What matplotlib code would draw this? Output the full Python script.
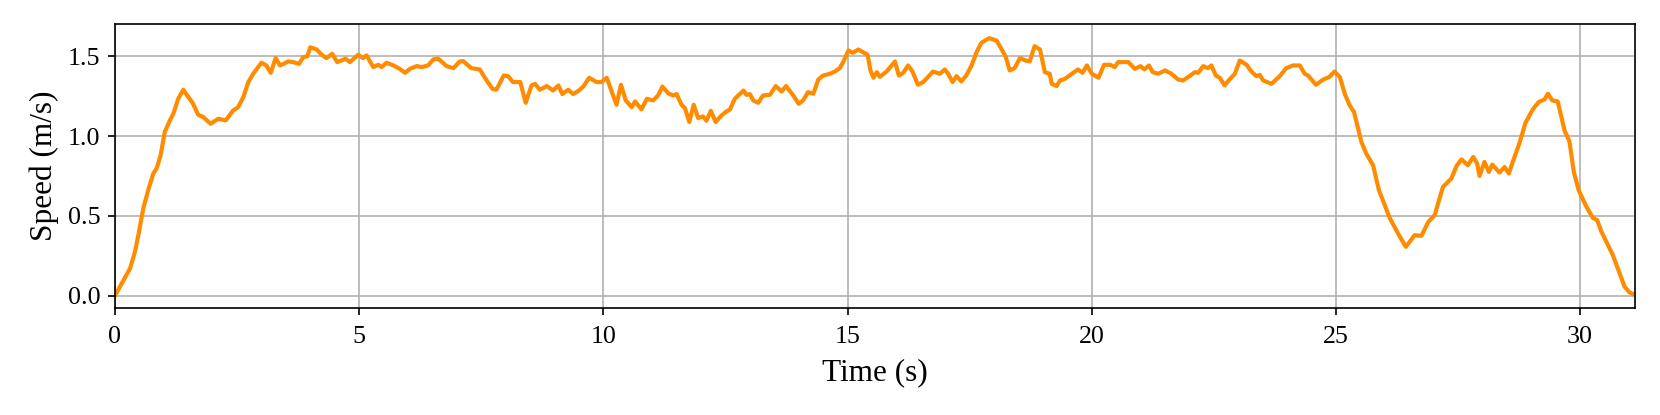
import numpy as np
import matplotlib.pyplot as plt

plt.rcParams['font.family'] = ['Liberation Serif', 'DejaVu Serif']

# Time (s) and speed (m/s)
time = [0.0, 0.31, 0.41, 0.48, 0.58, 0.68, 0.785, 0.853, 0.935, 1.02, 1.126, 1.194, 1.296, 1.399,
        1.48, 1.59, 1.705, 1.808, 1.958, 2.115, 2.27, 2.42, 2.52, 2.63, 2.73, 2.83, 3.0, 3.1,
        3.19, 3.29, 3.38, 3.55, 3.65, 3.77, 3.855, 3.94, 4.0, 4.13, 4.23, 4.33, 4.45, 4.55,
        4.72, 4.81, 4.98, 5.08, 5.15, 5.29, 5.39, 5.46, 5.56, 5.70, 5.83, 5.94, 6.04, 6.18,
        6.28, 6.41, 6.52, 6.62, 6.79, 6.93, 7.06, 7.13, 7.30, 7.47, 7.61, 7.73, 7.81, 7.96,
        8.05, 8.15, 8.30, 8.41, 8.53, 8.60, 8.70, 8.84, 8.97, 9.08, 9.16, 9.28, 9.38, 9.49,
        9.59, 9.71, 9.86, 9.96, 10.07, 10.17, 10.27, 10.36, 10.46, 10.58, 10.65, 10.78, 10.89,
        11.02, 11.12, 11.21, 11.33, 11.43, 11.50, 11.60, 11.67, 11.76, 11.85, 11.94, 12.04,
        12.11, 12.20, 12.30, 12.42, 12.52, 12.59, 12.69, 12.87, 12.93, 13.00, 13.07, 13.17,
        13.27, 13.41, 13.53, 13.65, 13.74, 13.88, 14.0, 14.09, 14.19, 14.30, 14.40, 14.50,
        14.64, 14.74, 14.84, 14.91, 15.02, 15.11, 15.22, 15.32, 15.41, 15.47, 15.53, 15.60,
        15.66, 15.80, 15.97, 16.05, 16.14, 16.24, 16.33, 16.44, 16.55, 16.65, 16.75, 16.89,
        16.99, 17.06, 17.15, 17.23, 17.33, 17.43, 17.54, 17.64, 17.74, 17.90, 18.05, 18.15,
        18.24, 18.32, 18.42, 18.53, 18.65, 18.73, 18.83, 18.94, 19.04, 19.14, 19.18, 19.28,
        19.35, 19.45, 19.62, 19.72, 19.81, 19.90, 20.0, 20.14, 20.25, 20.38, 20.47, 20.54,
        20.75, 20.88, 21.0, 21.08, 21.17, 21.25, 21.36, 21.50, 21.63, 21.77, 21.87, 22.0,
        22.11, 22.18, 22.28, 22.38, 22.45, 22.54, 22.62, 22.72, 22.82, 22.93, 23.03, 23.17,
        23.27, 23.37, 23.44, 23.51, 23.68, 23.85, 23.98, 24.12, 24.26, 24.36, 24.43, 24.59,
        24.74, 24.86, 24.97, 25.08, 25.18, 25.28, 25.37, 25.52, 25.62, 25.76, 25.88, 26.0,
        26.10, 26.27, 26.43, 26.61, 26.75, 26.89, 27.02, 27.19, 27.36, 27.47, 27.57, 27.70,
        27.81, 27.89, 27.94, 28.04, 28.13, 28.20, 28.35, 28.45, 28.54, 28.62, 28.76, 28.88,
        29.03, 29.15, 29.27, 29.34, 29.43, 29.54, 29.68, 29.78, 29.87, 29.97, 30.12, 30.26,
        30.35, 30.43, 30.67, 30.91, 31.01, 31.12]
speed = [0.0, 0.171, 0.275, 0.38, 0.546, 0.66, 0.765, 0.797, 0.879, 1.025, 1.098, 1.139, 1.233, 1.29,
         1.254, 1.208, 1.133, 1.119, 1.077, 1.108, 1.098, 1.16, 1.18, 1.244, 1.338, 1.39, 1.459, 1.442,
         1.396, 1.488, 1.442, 1.467, 1.463, 1.452, 1.494, 1.50, 1.556, 1.542, 1.51, 1.488, 1.515, 1.463,
         1.484, 1.463, 1.509, 1.488, 1.505, 1.432, 1.446, 1.432, 1.459, 1.442, 1.421, 1.396, 1.421, 1.438,
         1.432, 1.442, 1.48, 1.484, 1.438, 1.425, 1.467, 1.469, 1.425, 1.417, 1.348, 1.296, 1.29, 1.379,
         1.375, 1.338, 1.338, 1.208, 1.317, 1.327, 1.29, 1.313, 1.285, 1.317, 1.263, 1.29, 1.263, 1.283,
         1.31, 1.365, 1.338, 1.338, 1.365, 1.279, 1.196, 1.321, 1.223, 1.181, 1.217, 1.167, 1.233,
         1.223, 1.254, 1.31, 1.267, 1.254, 1.263, 1.196, 1.175, 1.088, 1.196, 1.113, 1.123,
         1.096, 1.158, 1.088, 1.129, 1.154, 1.165, 1.233, 1.285, 1.258, 1.263, 1.223, 1.208,
         1.254, 1.258, 1.313, 1.279, 1.313, 1.258, 1.202, 1.223, 1.275, 1.265, 1.354, 1.379,
         1.390, 1.404, 1.425, 1.463, 1.536, 1.521, 1.542, 1.525, 1.509, 1.41, 1.365, 1.40,
         1.371, 1.404, 1.467, 1.379, 1.396, 1.442, 1.404, 1.321, 1.338, 1.371, 1.404, 1.390,
         1.417, 1.390, 1.338, 1.375, 1.342, 1.379, 1.442, 1.525, 1.584, 1.613, 1.598, 1.546,
         1.494, 1.411, 1.425, 1.488, 1.473, 1.467, 1.563, 1.542, 1.400, 1.390, 1.327, 1.313,
         1.348, 1.358, 1.396, 1.417, 1.396, 1.442, 1.39, 1.365, 1.446, 1.446, 1.432, 1.463,
         1.463, 1.421, 1.438, 1.417, 1.442, 1.400, 1.390, 1.411, 1.390, 1.354, 1.348, 1.375,
         1.400, 1.396, 1.438, 1.425, 1.442, 1.379, 1.365, 1.317, 1.354, 1.390, 1.473, 1.446,
         1.404, 1.375, 1.383, 1.348, 1.327, 1.375, 1.425, 1.442, 1.442, 1.390, 1.379, 1.321,
         1.354, 1.369, 1.404, 1.369, 1.265, 1.192, 1.150, 0.963, 0.89, 0.817, 0.660, 0.567,
         0.487, 0.390, 0.306, 0.379, 0.375, 0.462, 0.504, 0.681, 0.733, 0.813, 0.854, 0.817,
         0.869, 0.827, 0.75, 0.838, 0.775, 0.821, 0.771, 0.806, 0.765, 0.838, 0.958, 1.083,
         1.167, 1.213, 1.229, 1.265, 1.223, 1.217, 1.035, 0.967, 0.775, 0.660, 0.562, 0.487,
         0.473, 0.404, 0.254, 0.056, 0.021, 0.004]

fig = plt.figure(figsize=(11.073, 2.767), dpi=150)
ax = fig.add_axes([0.0692, 0.2586, 0.9151, 0.6828])
ax.plot(time, speed, color='darkorange', linewidth=2)
ax.set_xlim(0, 31.12)
ax.set_ylim(-0.075, 1.70)
ax.set_xticks([0, 5, 10, 15, 20, 25, 30])
ax.set_yticks([0.0, 0.5, 1.0, 1.5])
ax.tick_params(labelsize=12.5)
ax.tick_params(axis='x', pad=5.2)
ax.set_xlabel('Time (s)', fontsize=15, labelpad=5)
ax.set_ylabel('Speed (m/s)', fontsize=15)
ax.grid(True)
fig.savefig('out.png', dpi=150)
